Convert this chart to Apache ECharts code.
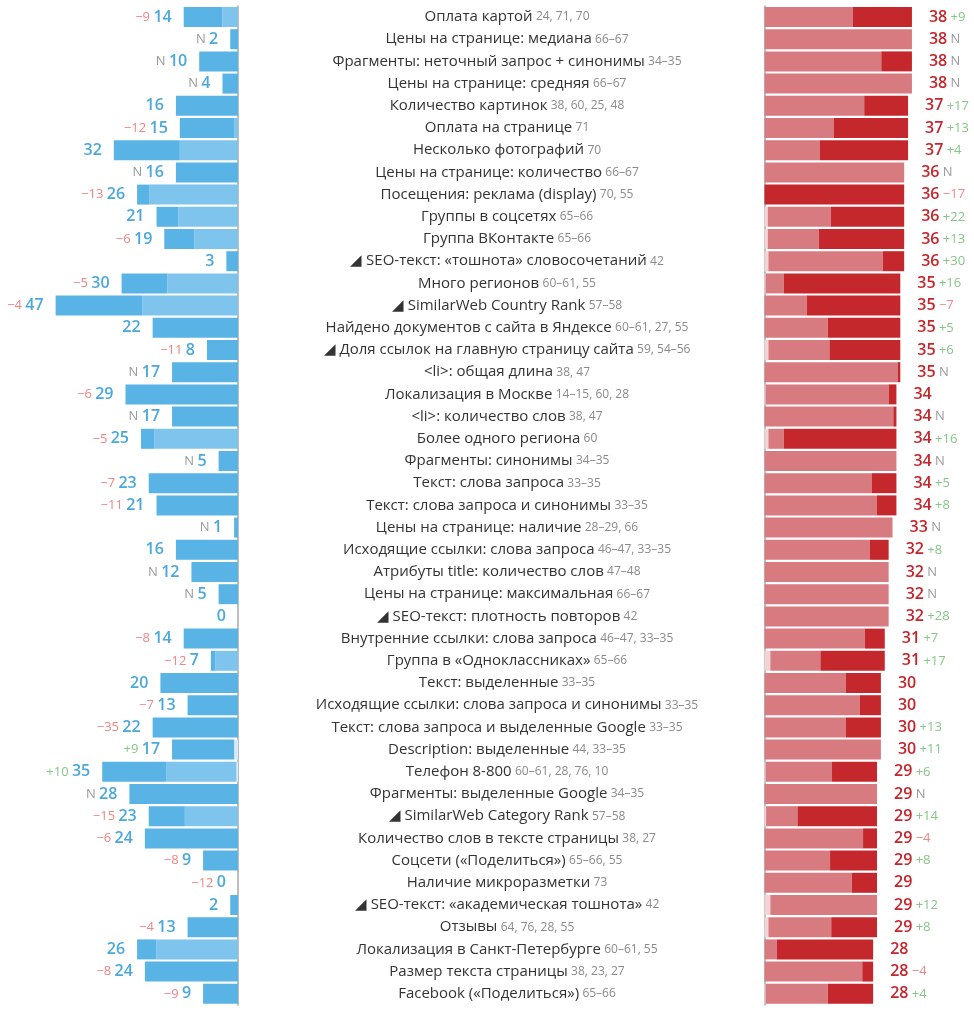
<!DOCTYPE html>
<html>
<head>
<meta charset="utf-8">
<script src="https://cdn.jsdelivr.net/npm/echarts@6/dist/echarts.min.js"></script>
<style>html,body{margin:0;padding:0;background:#fff}#c{width:974px;height:1024px}</style>
</head>
<body>
<div id="c"></div>
<script>
const categories = [
"Оплата картой","Цены на странице: медиана","Фрагменты: неточный запрос + синонимы","Цены на странице: средняя",
"Количество картинок","Оплата на странице","Несколько фотографий","Цены на странице: количество",
"Посещения: реклама (display)","Группы в соцсетях","Группа ВКонтакте","◢ SEO-текст: «тошнота» словосочетаний",
"Много регионов","◢ SimilarWeb Country Rank","Найдено документов с сайта в Яндексе","◢ Доля ссылок на главную страницу сайта",
"<li>: общая длина","Локализация в Москве","<li>: количество слов","Более одного региона",
"Фрагменты: синонимы","Текст: слова запроса","Текст: слова запроса и синонимы","Цены на странице: наличие",
"Исходящие ссылки: слова запроса","Атрибуты title: количество слов","Цены на странице: максимальная","◢ SEO-текст: плотность повторов",
"Внутренние ссылки: слова запроса","Группа в «Одноклассниках»","Текст: выделенные","Исходящие ссылки: слова запроса и синонимы",
"Текст: слова запроса и выделенные Google","Description: выделенные","Телефон 8-800","Фрагменты: выделенные Google",
"◢ SimilarWeb Category Rank","Количество слов в тексте страницы","Соцсети («Поделиться»)","Наличие микроразметки",
"◢ SEO-текст: «академическая тошнота»","Отзывы","Локализация в Санкт-Петербурге","Размер текста страницы",
"Facebook («Поделиться»)"
];
const catNotes = [
"24, 71, 70","66–67","34–35","66–67",
"38, 60, 25, 48","71","70","66–67",
"70, 55","65–66","65–66","42",
"60–61, 55","57–58","60–61, 27, 55","59, 54–56",
"38, 47","14–15, 60, 28","38, 47","60",
"34–35","33–35","33–35","28–29, 66",
"46–47, 33–35","47–48","66–67","42",
"46–47, 33–35","65–66","33–35","33–35",
"33–35","44, 33–35","60–61, 28, 76, 10","34–35",
"57–58","38, 27","65–66, 55","73",
"42","64, 76, 28, 55","60–61, 55","38, 23, 27",
"65–66"
];
const leftValue = [14,2,10,4,16,15,32,16,26,21,19,3,30,47,22,8,17,29,17,25,5,23,21,1,16,12,5,0,14,7,20,13,22,17,35,28,23,24,9,0,2,13,26,24,9];
const leftDelta = ["−9","N","N","N","","−12","","N","−13","","−6","","−5","−4","","−11","N","−6","N","−5","N","−7","−11","N","","N","N","","−8","−12","","−7","−35","+9","+10","N","−15","−6","−8","−12","","−4","","−8","−9"];
const leftLight = [4,0,0,0,0,1,15,0,22.8,15.4,11.2,0,18.2,24.7,0,0,0,0,0,21.5,0,0,0,0,0,0,0,0,0,5.8,0,0,0,0,18,0,13.7,0,0,0,0,0,21,0,0];
const leftPale  = [0,0,0,0,0,0,0,0,0,0,0,0,0,0,0,0,0,0,0,0,0,0,0,0,0,0,0,0,0,0,0,0,0,1,0.4,0,0,0,0,0,0,0,0,0,0];
const rightValue = [38,38,38,38,37,37,37,36,36,36,36,36,35,35,35,35,35,34,34,34,34,34,34,33,32,32,32,32,31,31,30,30,30,30,29,29,29,29,29,29,29,29,28,28,28];
const rightDelta = ["+9","N","N","N","+17","+13","+4","N","−17","+22","+13","+30","+16","−7","+5","+6","N","","N","+16","N","+5","+8","N","+8","N","N","+28","+7","+17","","","+13","+11","+6","N","+14","−4","+8","","+12","+8","","−4","+4"];
const rightPale = [0,0,0,0,0,0,0,0,0,0.85,0.85,1,0.3,0,0,1,0,0.3,0,1,0,0,0,0,0,0,0,0,0,1.5,0,0,0,0,0.3,0,0.4,0,0,0,1.5,1,0,0,0.3];
const rightDark = [15.2,0,7.9,0,11.3,19.1,22.8,0,36,18.9,22,5.5,30,24.1,18.7,18.25,0.7,2,0.8,29,0,6.4,5,0,4.9,0,0,0,5.1,16.6,9,5.4,9,0,11.6,0,20.5,3.6,12.1,6.5,0,11.8,24.8,2.8,11.7];

const FONT = "'Open Sans', 'Noto Sans', sans-serif";
const leftDark = leftValue.map((v, i) => Math.max(0, v - leftLight[i] - leftPale[i]));
const rightPink = rightValue.map((v, i) => Math.max(0, v - rightPale[i] - rightDark[i]));

function deltaKey(d) {
  if (d === "N") return "dn";
  if (d.charAt(0) === "+") return "dg";
  return "dr";
}
const rich = {
  v: { fontFamily: FONT, fontSize: 16, fontWeight: 600, color: "#4aa8dc" },
  r: { fontFamily: FONT, fontSize: 16, fontWeight: 600, color: "#c4262c" },
  dr: { fontFamily: FONT, fontSize: 13, color: "#f08585" },
  dg: { fontFamily: FONT, fontSize: 13, color: "#86c686" },
  dn: { fontFamily: FONT, fontSize: 13, color: "#9a9a9a" }
};

const gridTop = 5.9, rowH = 22.2;
const gridH = rowH * categories.length;
const scaleW = 194;
const BW = 20;

const option = {
  animation: false,
  backgroundColor: "#fff",
  grid: [
    { left: 238 - scaleW, top: gridTop, width: scaleW, height: gridH },
    { left: 764.5, top: gridTop, width: scaleW, height: gridH }
  ],
  xAxis: [
    { gridIndex: 0, type: "value", min: 0, max: 50, inverse: true, show: false },
    { gridIndex: 1, type: "value", min: 0, max: 50, show: false }
  ],
  yAxis: [
    {
      gridIndex: 0, type: "category", data: categories, inverse: true, position: "right",
      axisLine: { show: true, lineStyle: { color: "#a8a8a8", width: 1.5 } },
      axisTick: { show: false }, splitLine: { show: false },
      axisLabel: {
        margin: 269, align: "center", interval: 0,
        formatter: (val, idx) => "{n|" + val + "} {s|" + catNotes[idx] + "}",
        rich: {
          n: { fontFamily: FONT, fontSize: 15, color: "#333" },
          s: { fontFamily: FONT, fontSize: 12, color: "#8a8a8a" }
        }
      }
    },
    {
      gridIndex: 1, type: "category", data: categories, inverse: true, position: "left",
      axisLine: { show: true, lineStyle: { color: "#a8a8a8", width: 1.5 } },
      axisTick: { show: false }, splitLine: { show: false }, axisLabel: { show: false }
    }
  ],
  series: [
    { type: "bar", xAxisIndex: 0, yAxisIndex: 0, stack: "L", data: leftPale, barWidth: BW, itemStyle: { color: "#d4ecf9" }, silent: true },
    { type: "bar", xAxisIndex: 0, yAxisIndex: 0, stack: "L", data: leftLight, barWidth: BW, itemStyle: { color: "#7ec4ec" }, silent: true },
    { type: "bar", xAxisIndex: 0, yAxisIndex: 0, stack: "L", data: leftDark, barWidth: BW, itemStyle: { color: "#59b3e4" }, silent: true },
    {
      type: "bar", xAxisIndex: 0, yAxisIndex: 0, data: leftValue, barWidth: BW, barGap: "-100%",
      itemStyle: { color: "rgba(0,0,0,0)" }, silent: true,
      label: {
        show: true, position: "left", distance: 12,
        formatter: p => {
          const d = leftDelta[p.dataIndex];
          return (d ? "{" + deltaKey(d) + "|" + d + "} " : "") + "{v|" + p.value + "}";
        },
        rich: rich
      }
    },
    { type: "bar", xAxisIndex: 1, yAxisIndex: 1, stack: "R", data: rightPale, barWidth: BW, itemStyle: { color: "#f2d4d6" }, silent: true },
    { type: "bar", xAxisIndex: 1, yAxisIndex: 1, stack: "R", data: rightPink, barWidth: BW, itemStyle: { color: "#d77b81" }, silent: true },
    { type: "bar", xAxisIndex: 1, yAxisIndex: 1, stack: "R", data: rightDark, barWidth: BW, itemStyle: { color: "#c4282d" }, silent: true },
    {
      type: "bar", xAxisIndex: 1, yAxisIndex: 1, data: rightValue, barWidth: BW, barGap: "-100%",
      itemStyle: { color: "rgba(0,0,0,0)" }, silent: true,
      label: {
        show: true, position: "right", distance: 17,
        formatter: p => {
          const d = rightDelta[p.dataIndex];
          return "{r|" + p.value + "}" + (d ? " {" + deltaKey(d) + "|" + d + "}" : "");
        },
        rich: rich
      }
    }
  ]
};
const chart = echarts.init(document.getElementById("c"), null, { renderer: "canvas" });
chart.setOption(option);
</script>
</body>
</html>
